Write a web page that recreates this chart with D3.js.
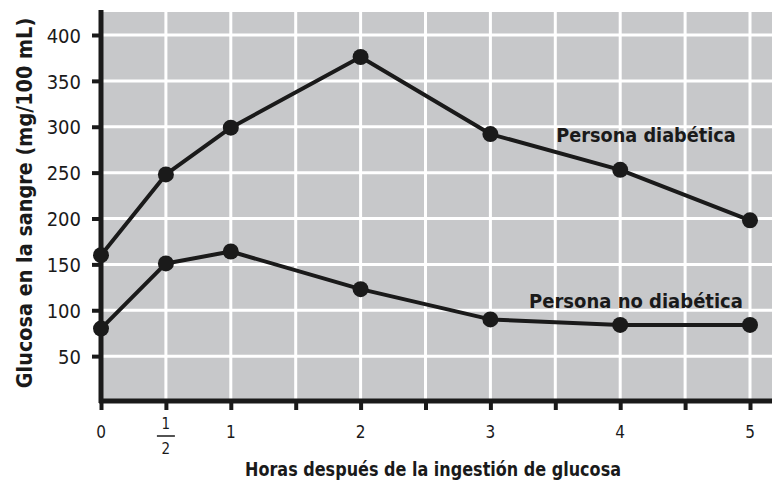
<!DOCTYPE html>
<html>
<head>
<meta charset="utf-8">
<script src="https://cdn.jsdelivr.net/npm/d3@7"></script>
<style>
  body { margin: 0; background: #fff; }
  text { font-family: "DejaVu Sans", sans-serif; font-stretch: condensed; fill: #1a1a1a; }
</style>
</head>
<body>
<div id="graph"></div>
<script>
var width = 772;
var height = 482;

// data
var hours = [0, 0.5, 1, 2, 3, 4, 5];
var diabetic = [160, 248, 299, 376, 292, 253, 198];
var nonDiabetic = [80, 151, 164, 123, 90, 84, 84];
var xTicks = [0, 0.5, 1, 1.5, 2, 2.5, 3, 3.5, 4, 4.5, 5];
var xLabels = ["0", "1/2", "1", "", "2", "", "3", "", "4", "", "5"];
var yTicks = [50, 100, 150, 200, 250, 300, 350, 400];
var seriesNames = ["Persona diabética", "Persona no diabética"];

var plotLeft = 101, plotTop = 12, plotBottom = 401;

var x = d3.scaleLinear().domain([0, 5]).range([plotLeft, 750]);
var y = d3.scaleLinear().domain([0, 400]).range([402, 35]);

var svg = d3.select('#graph')
  .append('svg')
  .attr('width', width)
  .attr('height', height);

// gray plot area
svg.append('rect')
  .attr('x', plotLeft).attr('y', plotTop)
  .attr('width', width - plotLeft).attr('height', plotBottom - plotTop)
  .style('fill', '#c7c8ca');

// white grid lines
svg.selectAll('.vgrid').data(xTicks.slice(1))
  .enter().append('line')
  .attr('x1', x).attr('x2', x)
  .attr('y1', plotTop).attr('y2', plotBottom)
  .style('stroke', '#fff').style('stroke-width', 3);

svg.selectAll('.hgrid').data(yTicks)
  .enter().append('line')
  .attr('x1', plotLeft).attr('x2', width)
  .attr('y1', y).attr('y2', y)
  .style('stroke', '#fff').style('stroke-width', 3);

// axes
var yAxis = d3.axisLeft(y).tickValues(yTicks).tickSize(9).tickPadding(11);
var gy = svg.append('g').attr('transform', 'translate(' + plotLeft + ',0)').call(yAxis);
gy.select('.domain').remove();
gy.selectAll('.tick line').style('stroke', '#1a1a1a').style('stroke-width', 4);
gy.selectAll('.tick text').style('font-size', '20px').attr('dy', '0.36em');

var xAxis = d3.axisBottom(x).tickValues(xTicks).tickSize(9).tickFormat('');
var gx = svg.append('g').attr('transform', 'translate(0,' + plotBottom + ')').call(xAxis);
gx.select('.domain').remove();
gx.selectAll('.tick line').style('stroke', '#1a1a1a').style('stroke-width', 4);

// axis lines
svg.append('line')
  .attr('x1', plotLeft).attr('x2', plotLeft)
  .attr('y1', plotTop - 2).attr('y2', plotBottom + 2)
  .style('stroke', '#1a1a1a').style('stroke-width', 5);
svg.append('line')
  .attr('x1', plotLeft - 2).attr('x2', width)
  .attr('y1', plotBottom).attr('y2', plotBottom)
  .style('stroke', '#1a1a1a').style('stroke-width', 5);

// x tick labels
xTicks.forEach(function(t, i) {
  var lab = xLabels[i];
  if (lab === "") return;
  if (lab === "1/2") {
    svg.append('text').attr('x', x(t)).attr('y', 429).attr('text-anchor', 'middle')
      .style('font-size', '15px').text('1');
    svg.append('line').attr('x1', x(t) - 9).attr('x2', x(t) + 9)
      .attr('y1', 436).attr('y2', 436)
      .style('stroke', '#1a1a1a').style('stroke-width', 1.5);
    svg.append('text').attr('x', x(t)).attr('y', 454).attr('text-anchor', 'middle')
      .style('font-size', '15px').text('2');
  } else {
    svg.append('text').attr('x', x(t)).attr('y', 438).attr('text-anchor', 'middle')
      .style('font-size', '17px').text(lab);
  }
});

// lines + points
var line = d3.line()
  .x(function(d) { return x(d[0]); })
  .y(function(d) { return y(d[1]); });

[diabetic, nonDiabetic].forEach(function(vals) {
  var pts = hours.map(function(h, i) { return [h, vals[i]]; });
  svg.append('path').datum(pts)
    .attr('d', line)
    .style('fill', 'none').style('stroke', '#1a1a1a').style('stroke-width', 4)
    .style('stroke-linejoin', 'round');
  svg.selectAll(null).data(pts).enter().append('circle')
    .attr('cx', function(d) { return x(d[0]); })
    .attr('cy', function(d) { return y(d[1]); })
    .attr('r', 8)
    .style('fill', '#1a1a1a');
});

// series labels
svg.append('text').attr('x', 646).attr('y', 142).attr('text-anchor', 'middle')
  .style('font-size', '19.7px').style('font-weight', 'bold').text(seriesNames[0]);
svg.append('text').attr('x', 636).attr('y', 308).attr('text-anchor', 'middle')
  .style('font-size', '20px').style('font-weight', 'bold').text(seriesNames[1]);

// axis titles
svg.append('text').attr('x', 433).attr('y', 476).attr('text-anchor', 'middle')
  .attr('textLength', 376).attr('lengthAdjust', 'spacingAndGlyphs')
  .style('font-size', '20px').style('font-weight', 'bold')
  .text('Horas después de la ingestión de glucosa');
svg.append('text')
  .attr('transform', 'translate(32,203) rotate(-90)')
  .attr('text-anchor', 'middle')
  .style('font-size', '21.4px').style('font-weight', 'bold')
  .text('Glucosa en la sangre (mg/100 mL)');
</script>
</body>
</html>
